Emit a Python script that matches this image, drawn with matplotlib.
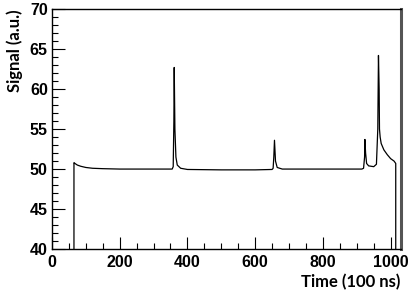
import numpy as np
from matplotlib import pyplot as plt
from matplotlib.ticker import MultipleLocator

# trace (time in 100 ns, signal in a.u.)
time = [65, 65, 68, 75, 85, 100, 120, 150, 200, 300, 355, 358, 360, 361, 363, 366, 370, 380,
        400, 500, 600, 650, 653, 655, 657, 660, 665, 680, 750, 850, 915, 920, 923, 924, 926,
        929, 935, 950, 958, 962, 964, 966, 967, 969, 972, 980, 990, 1000, 1010, 1015, 1015]
signal = [40, 50.8, 50.7, 50.5, 50.35, 50.2, 50.1, 50.05, 50.0, 50.0, 50.0, 50.3, 56, 62.7, 55,
          51.5, 50.5, 50.1, 49.95, 49.9, 49.9, 49.95, 50.1, 51.5, 53.6, 51, 50.2, 50.0, 50.0,
          50.0, 50.0, 50.1, 51.5, 53.7, 52, 50.7, 50.4, 50.3, 50.6, 55, 64.2, 60, 55, 54, 53.2,
          52.4, 51.8, 51.3, 51.0, 50.7, 40]

fig = plt.figure(figsize=(4.09, 2.92), dpi=100)
ax = fig.add_axes([0.127, 0.147, 0.853, 0.822])
ax.plot(time, signal, color='black', lw=0.9)

ax.set_xlim(0, 1030)
ax.set_ylim(40, 70)
ax.xaxis.set_major_locator(MultipleLocator(200))
ax.xaxis.set_minor_locator(MultipleLocator(50))
ax.yaxis.set_major_locator(MultipleLocator(5))
ax.yaxis.set_minor_locator(MultipleLocator(1))
ax.tick_params(which='both', direction='in', top=False, right=False, width=0.8)
ax.tick_params(which='major', length=9)
ax.tick_params(which='minor', length=4.5)
ax.tick_params(axis='y', pad=3)
ax.tick_params(axis='x', pad=4)
for lab in ax.get_xticklabels() + ax.get_yticklabels():
    lab.set_family('Liberation Sans')
    lab.set_fontweight('bold')
    lab.set_fontsize(11.5)

ax.spines['right'].set_linewidth(2.2)
ax.spines['right'].set_color('#555555')
for s in ['top', 'left', 'bottom']:
    ax.spines[s].set_linewidth(1.0)

ax.set_xlabel('Time (100 ns)', family='Lato', fontweight='bold', fontsize=12,
              ha='right', va='center')
ax.xaxis.set_label_coords(1.0, -0.1375)
ax.set_ylabel('Signal (a.u.)', family='Lato', fontweight='bold', fontsize=12,
              ha='right', va='center', rotation_mode='anchor')
ax.yaxis.set_label_coords(-0.107, 1.0)

plt.savefig('out.png', dpi=100)
